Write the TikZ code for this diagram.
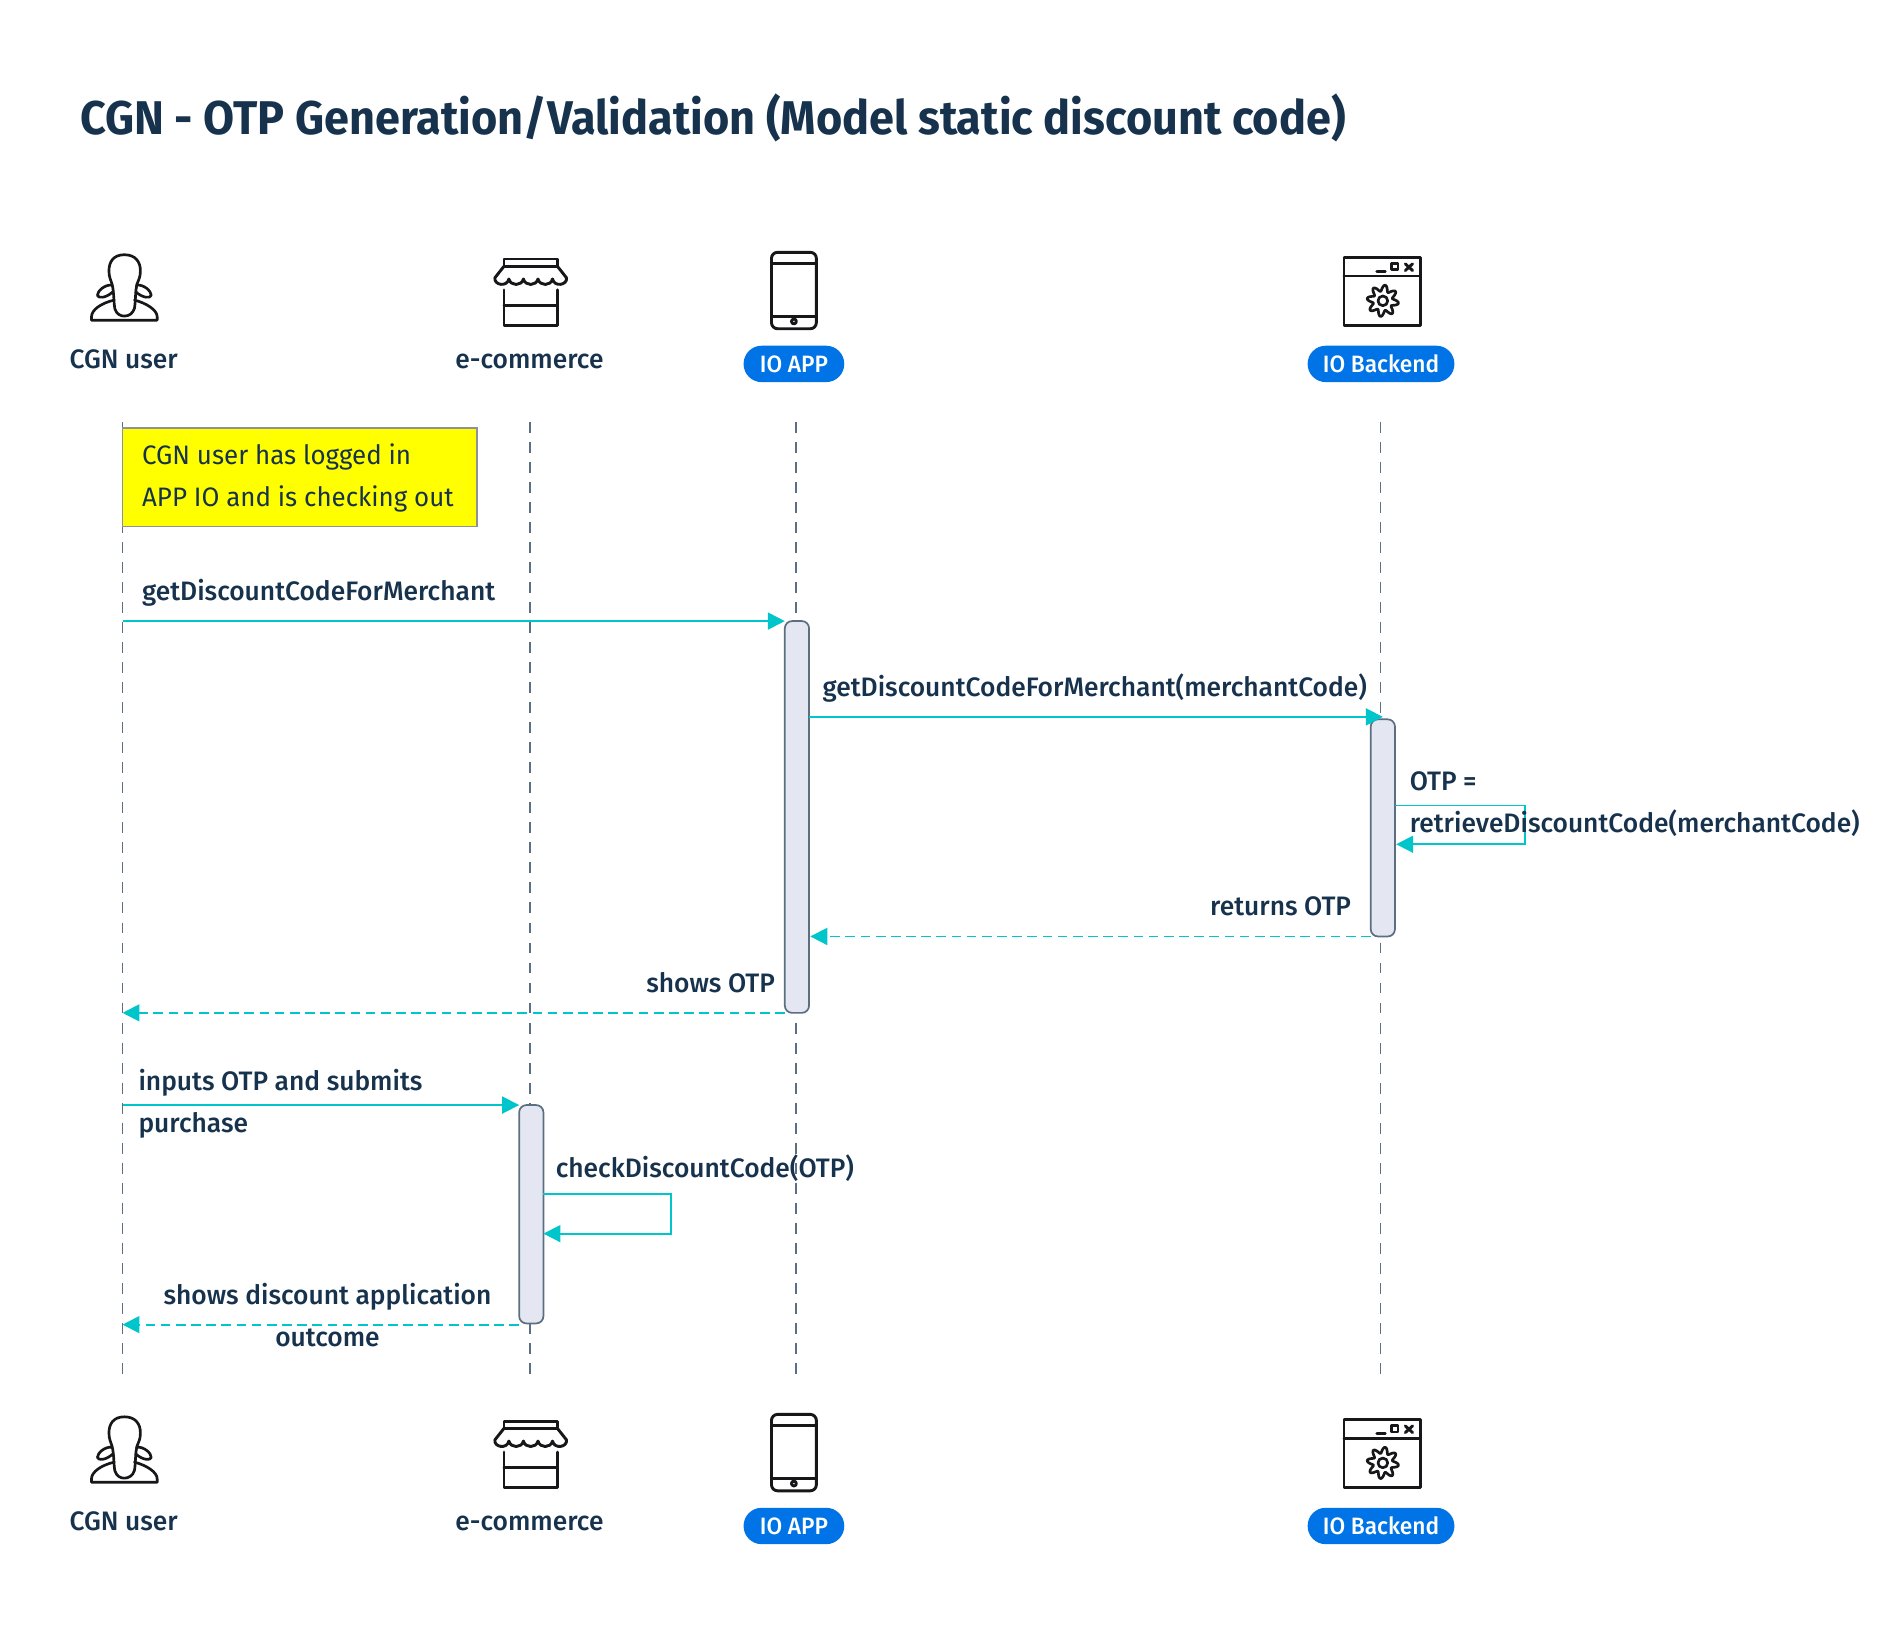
\documentclass[tikz,border=0pt]{standalone}
\usepackage{fontspec}
\usetikzlibrary{arrows.meta,calc}
\setmainfont{Fira Sans}[FakeStretch=0.97]
\newfontfamily\medfont{Fira Sans Medium}[FakeStretch=0.988]
\newfontfamily\pillfont{Fira Sans Medium}[FakeStretch=0.96]
\newfontfamily\titlefont{Fira Sans Bold}[FakeStretch=0.952]
\definecolor{ink}{HTML}{17324D}
\definecolor{teal}{HTML}{00C5CA}
\definecolor{slate}{HTML}{5C6F82}
\definecolor{actfill}{HTML}{E4E7F1}
\definecolor{pillblue}{HTML}{0073E6}
\definecolor{iconink}{HTML}{17171A}
\definecolor{noteyellow}{HTML}{FFFF00}
\definecolor{noteedge}{HTML}{8E9196}
\tikzset{
  lifeline/.style={slate,line width=1.5pt,dash pattern=on 9pt off 7.5pt},
  msg/.style={teal,line width=1.5pt,-{Triangle[length=14pt,width=14pt]}},
  reply/.style={msg,dash pattern=on 8pt off 4.5pt},
  activation/.style={draw=slate,fill=actfill,line width=1.4pt,rounded corners=6pt,minimum width=20pt,inner sep=0pt,outer sep=0pt,anchor=north west},
  lbl/.style={text=ink,inner sep=0pt,font=\medfont\fontsize{22}{35}\selectfont},
  actorlbl/.style={lbl,anchor=base},
  pill/.style={fill=pillblue,text=white,rounded corners=14.9pt,minimum height=30pt,inner sep=0pt,font=\pillfont\fontsize{19.5}{24}\selectfont,text depth=0pt},
  notebox/.style={draw=noteedge,line width=1.4pt,fill=noteyellow,anchor=north west,minimum width=292pt,minimum height=81pt,inner sep=0pt,outer sep=0pt},
  ic/.style={iconink,line width=2.4pt,line join=round,line cap=round},
  usericon/.pic={
    \begin{scope}[x=.288pt,y=-.281pt,shift={(-207,-103)},iconink,line width=2.2pt,line join=round,line cap=round]
      \draw (207,103) .. controls (175,103) and (163,125) .. (163,150) .. controls (163,170) and (168,175) .. (172,190) .. controls (178,215) and (176,240) .. (180,262) .. controls (185,278) and (197,283) .. (207,283) .. controls (220,283) and (232,275) .. (236,260) .. controls (240,235) and (238,210) .. (243,190) .. controls (248,175) and (253,170) .. (253,150) .. controls (253,125) and (240,103) .. (207,103) -- cycle;
      \draw (172,192) .. controls (150,190) and (130,210) .. (130,222) .. controls (132,232) and (155,230) .. (174,212);
      \draw (242,192) .. controls (264,190) and (284,210) .. (284,222) .. controls (282,232) and (259,230) .. (240,212);
      \draw (178,236) .. controls (140,245) and (113,265) .. (113,285) -- (113,295) -- (301,295) -- (301,285) .. controls (301,265) and (270,245) .. (236,236);
    \end{scope}
  },
  shopicon/.pic={
    \draw[ic] (8.5,.5) rectangle (52.5,6.5);
    \draw[ic] (8.5,6.5) -- (1,16) .. controls (0,22) and (11,24) .. (12.5,17) .. controls (14,23) and (23,23) .. (24.5,17) .. controls (26,23) and (35,23) .. (36.5,17) .. controls (38,23) and (47,23) .. (48.5,17) .. controls (50,24) and (61,22) .. (60,16) -- (52.5,6.5);
    \draw[ic] (8.5,26) -- (8.5,55.5) -- (52.5,55.5) -- (52.5,26);
    \draw[ic] (8.5,39) -- (52.5,39);
  },
  phoneicon/.pic={
    \draw[ic,rounded corners=5pt] (0,0) rectangle (37,63);
    \draw[ic] (0,9) -- (37,9) (0,53) -- (37,53);
    \draw[ic] (18.5,57) circle (2);
  },
  windowicon/.pic={
    \draw[ic,line cap=butt] (0,0) rectangle (63,56);
    \draw[ic] (0,15.5) -- (63,15.5);
    \draw[ic] (27,11.5) -- (34,11.5);
    \draw[ic] (39,5.5) rectangle (44.5,10.5);
    \draw[ic] (50.5,5.5) -- (56.5,11) (56.5,5.5) -- (50.5,11);
    \draw[ic,line width=2.2pt] plot[domain=0:360,samples=121,smooth cycle,variable=\t] ({(10.5+2.5*sin(8*\t+22))*cos(\t)+32},{(10.5+2.5*sin(8*\t+22))*sin(\t)+36});
    \draw[ic,line width=2.2pt] (32,36) circle (4);
  },
}
\begin{document}
\begin{tikzpicture}[x=1pt,y=-1pt]
\useasboundingbox[fill=white] (0,0) rectangle (1568,1339);
\node[text=ink,inner sep=0pt,anchor=base west,font=\titlefont\fontsize{39}{46}\selectfont] (title) at (66,111) {CGN - OTP Generation/Validation (Model static discount code)};

% lifelines
\coordinate (uTop) at (101,348); \coordinate (uBot) at (101,1133);
\coordinate (eTop) at (437,348); \coordinate (eBot) at (437,1133);
\coordinate (aTop) at (656,348); \coordinate (aBot) at (656,1133);
\coordinate (bTop) at (1138,348); \coordinate (bBot) at (1138,1133);
\draw[lifeline] (uTop) -- (uBot);
\draw[lifeline] (eTop) -- (eBot);
\draw[lifeline] (aTop) -- (aBot);
\draw[lifeline] (bTop) -- (bBot);

% top actors
\pic at (102.5,210) {usericon};
\pic at (407,213) {shopicon};
\pic at (636,208) {phoneicon};
\pic at (1108,212) {windowicon};
\node[actorlbl] (uT) at (102,304) {CGN user};
\node[actorlbl] (eT) at (436.5,304) {e-commerce};
\node[pill,minimum width=83pt] (aT) at (654.5,300) {IO APP};
\node[pill,minimum width=121pt] (bT) at (1138.5,300) {IO Backend};
% bottom actors
\pic at (102.5,1168) {usericon};
\pic at (407,1171) {shopicon};
\pic at (636,1166) {phoneicon};
\pic at (1108,1170) {windowicon};
\node[actorlbl] (uB) at (102,1262) {CGN user};
\node[actorlbl] (eB) at (436.5,1262) {e-commerce};
\node[pill,minimum width=83pt] (aB) at (654.5,1258) {IO APP};
\node[pill,minimum width=121pt] (bB) at (1138.5,1258) {IO Backend};

% note
\node[notebox] (note) at (101,353) {};
\node[anchor=west,text=ink,inner sep=0pt,align=left,font=\fontsize{22}{35}\selectfont] (noteT) at (117,394) {CGN user has logged in\\APP IO and is checking out};

% activations
\node[activation,minimum height=323pt] (actA) at (647,512) {};
\node[activation,minimum height=179pt] (actB) at (1130,593) {};
\node[activation,minimum height=180pt] (actE) at (428,911) {};

% messages
\coordinate (m1s) at (101,512);
\draw[msg] (m1s) -- (actA.north west);
\node[lbl,anchor=base west] (m1) at (117,495) {getDiscountCodeForMerchant};

\coordinate (m2s) at (667,591); \coordinate (m2e) at (1140,591);
\draw[msg] (m2s) -- (m2e);
\node[lbl,anchor=base west] (m2) at (678,574) {getDiscountCodeForMerchant(merchantCode)};

\coordinate (l1a) at (1150,664); \coordinate (l1b) at (1257,664); \coordinate (l1c) at (1257,696); \coordinate (l1d) at (1151,696);
\draw[msg] (l1a) -- (l1b) -- (l1c) -- (l1d);
\node[lbl,anchor=west,align=left] (l1) at (1162,663) {OTP =\\retrieveDiscountCode(merchantCode)};

\coordinate (r1s) at (1130,772); \coordinate (r1e) at (668,772);
\draw[reply] (r1s) -- (r1e);
\node[lbl,anchor=base east] (r1) at (1114,755) {returns OTP};

\coordinate (r2s) at (647,835); \coordinate (r2e) at (101,835);
\draw[reply] (r2s) -- (r2e);
\node[lbl,anchor=base east] (r2) at (639,818) {shows OTP};

\coordinate (m3s) at (101,911);
\draw[msg] (m3s) -- (actE.north west);
\node[lbl,anchor=west,align=left] (m3) at (114,910) {inputs OTP and submits\\purchase};

\coordinate (l2a) at (448,984); \coordinate (l2b) at (553,984); \coordinate (l2c) at (553,1017); \coordinate (l2d) at (448,1017);
\draw[msg] (l2a) -- (l2b) -- (l2c) -- (l2d);
\node[lbl,anchor=base west] (l2) at (458,971) {checkDiscountCode(OTP)};

\coordinate (r3s) at (428,1092); \coordinate (r3e) at (101,1092);
\draw[reply] (r3s) -- (r3e);
\node[lbl,anchor=center,align=center] (r3) at (270,1084) {shows discount application\\outcome};
\end{tikzpicture}
\end{document}
